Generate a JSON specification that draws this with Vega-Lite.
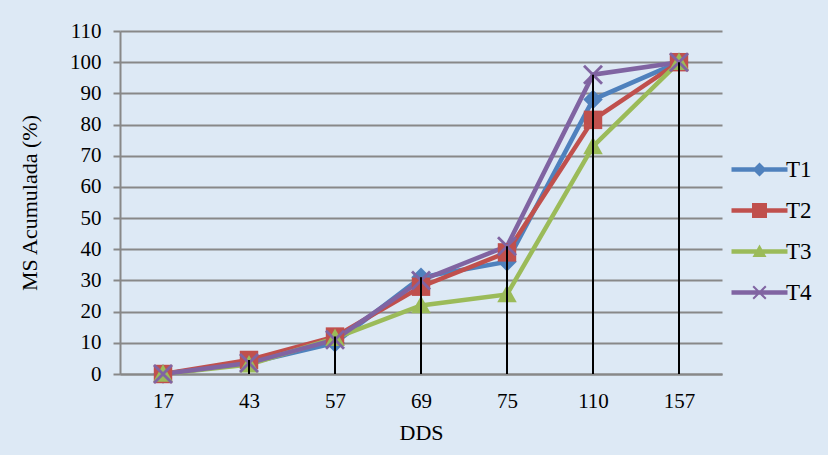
{
  "$schema": "https://vega.github.io/schema/vega-lite/v6.json",
  "autosize": "none",
  "width": 602,
  "height": 343,
  "padding": {"left": 120, "top": 31, "right": 106, "bottom": 81},
  "background": "#dde9f5",
  "config": {
    "view": {"stroke": null},
    "font": "Liberation Serif",
    "axis": {"labelFont": "Liberation Serif", "titleFont": "Liberation Serif", "labelColor": "#000", "titleColor": "#000", "titleFontWeight": "normal"},
    "legend": {"labelFont": "Liberation Serif", "labelFontSize": 23, "labelColor": "#000"}
  },
  "data": {"values": [
    {"dds": 17, "serie": "T1", "ms": 0}, {"dds": 43, "serie": "T1", "ms": 3.5}, {"dds": 57, "serie": "T1", "ms": 10}, {"dds": 69, "serie": "T1", "ms": 31}, {"dds": 75, "serie": "T1", "ms": 36}, {"dds": 110, "serie": "T1", "ms": 88}, {"dds": 157, "serie": "T1", "ms": 100},
    {"dds": 17, "serie": "T2", "ms": 0}, {"dds": 43, "serie": "T2", "ms": 4.5}, {"dds": 57, "serie": "T2", "ms": 12}, {"dds": 69, "serie": "T2", "ms": 28}, {"dds": 75, "serie": "T2", "ms": 39}, {"dds": 110, "serie": "T2", "ms": 81.5}, {"dds": 157, "serie": "T2", "ms": 100},
    {"dds": 17, "serie": "T3", "ms": 0}, {"dds": 43, "serie": "T3", "ms": 3}, {"dds": 57, "serie": "T3", "ms": 11.5}, {"dds": 69, "serie": "T3", "ms": 22}, {"dds": 75, "serie": "T3", "ms": 25.5}, {"dds": 110, "serie": "T3", "ms": 73}, {"dds": 157, "serie": "T3", "ms": 100},
    {"dds": 17, "serie": "T4", "ms": 0}, {"dds": 43, "serie": "T4", "ms": 3.5}, {"dds": 57, "serie": "T4", "ms": 11}, {"dds": 69, "serie": "T4", "ms": 30}, {"dds": 75, "serie": "T4", "ms": 41}, {"dds": 110, "serie": "T4", "ms": 96}, {"dds": 157, "serie": "T4", "ms": 100}
  ]},
  "encoding": {
    "x": {"field": "dds", "type": "ordinal", "scale": {"type": "point", "padding": 0.5},
      "axis": {"title": "DDS", "labelAngle": 0, "labelFontSize": 21, "titleFontSize": 22, "ticks": false, "labelPadding": 16, "titlePadding": 11, "domainColor": "#888888", "domainWidth": 2, "grid": false}},
    "y": {"field": "ms", "type": "quantitative", "scale": {"domain": [0, 110], "nice": false},
      "axis": {"title": "MS Acumulada (%)", "values": [0,10,20,30,40,50,60,70,80,90,100,110], "labelFontSize": 21, "titleFontSize": 22, "tickSize": 7, "tickColor": "#888888", "tickWidth": 2, "labelPadding": 12, "titlePadding": 28, "domainColor": "#888888", "domainWidth": 2, "grid": true, "gridColor": "#888888", "gridWidth": 2}}
  },
  "layer": [
    {
      "mark": {"type": "point", "filled": true, "opacity": 0},
      "encoding": {
        "color": {"field": "serie", "type": "nominal", "title": null,
          "scale": {"domain": ["T1","T2","T3","T4"], "range": ["#4F81BD","#C0504D","#9BBB59","#8064A2"]},
          "legend": {"orient": "none", "legendX": 628, "legendY": 127, "padding": 0, "symbolSize": 196, "symbolStrokeWidth": 0, "labelFont": "Liberation Serif", "labelFontSize": 23, "labelColor": "#000", "labelOffset": 15, "rowPadding": 17, "symbolOpacity": 1}},
        "shape": {"field": "serie", "type": "nominal", "title": null,
          "scale": {"domain": ["T1","T2","T3","T4"], "range": [
            "M-4,-0.33H4V0.33H-4Z M0,-1L1,0L0,1L-1,0Z",
            "M-4,-0.33H4V0.33H-4Z M-1.07,-1.07H1.07V1.07H-1.07Z",
            "M-4,-0.33H4V0.33H-4Z M0,-1L1,0.8L-1,0.8Z",
            "M-4,-0.33H4V0.33H-4Z M-1,-0.8L-0.8,-1L1,0.8L0.8,1Z M-1,0.8L0.8,-1L1,-0.8L-0.8,1Z"
          ]},
          "legend": {"orient": "none", "legendX": 628, "legendY": 127, "padding": 0, "symbolSize": 196, "symbolStrokeWidth": 0, "labelFont": "Liberation Serif", "labelFontSize": 23, "labelColor": "#000", "labelOffset": 15, "rowPadding": 17, "symbolOpacity": 1}}
      }
    },
    {
      "mark": {"type": "line", "strokeWidth": 4.5},
      "encoding": {"color": {"field": "serie", "type": "nominal"}}
    },
    {
      "transform": [{"filter": "datum.serie === 'T1'"}],
      "mark": {"type": "point", "filled": true, "opacity": 1, "color": "#4F81BD", "size": 380, "shape": "M0,-1L1,0L0,1L-1,0Z"}
    },
    {
      "transform": [{"filter": "datum.serie === 'T2'"}],
      "mark": {"type": "point", "filled": true, "opacity": 1, "color": "#C0504D", "size": 340, "shape": "M-1,-1H1V1H-1Z"}
    },
    {
      "transform": [{"filter": "datum.serie === 'T3'"}],
      "mark": {"type": "point", "filled": true, "opacity": 1, "color": "#9BBB59", "size": 380, "shape": "M0,-1L1,0.8L-1,0.8Z"}
    },
    {
      "transform": [{"filter": "datum.serie === 'T4'"}],
      "mark": {"type": "point", "filled": true, "opacity": 1, "color": "#8064A2", "size": 400, "shape": "M-1,-0.8L-0.8,-1L1,0.8L0.8,1Z M-1,0.8L0.8,-1L1,-0.8L-0.8,1Z"}
    },
    {
      "transform": [{"aggregate": [{"op": "max", "field": "ms", "as": "mx"}], "groupby": ["dds"]}],
      "mark": {"type": "rule", "color": "#000000", "strokeWidth": 2},
      "encoding": {"y": {"field": "mx", "type": "quantitative"}, "y2": {"datum": 0}}
    }
  ]
}
